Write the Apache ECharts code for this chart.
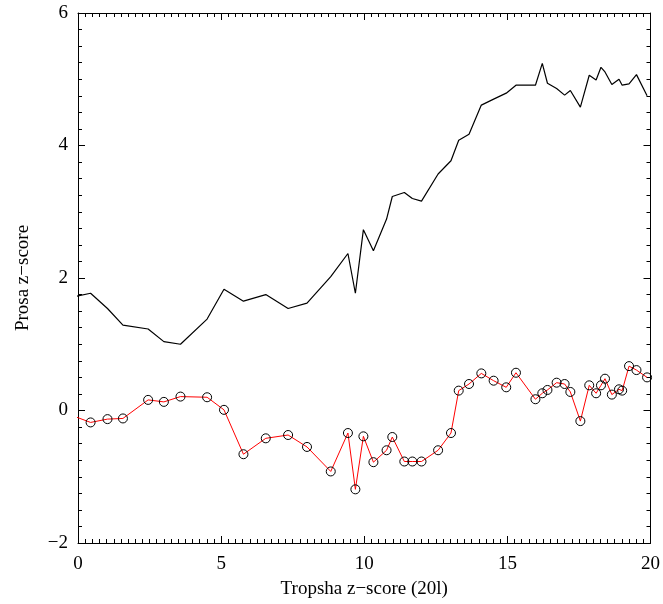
<!DOCTYPE html>
<html>
<head>
<meta charset="utf-8">
<style>
  html, body { margin: 0; padding: 0; background: #fff; }
  #main { width: 663px; height: 604px; }
</style>
<script src="https://cdn.jsdelivr.net/npm/echarts@6/dist/echarts.min.js"></script>
</head>
<body>
<div id="main"></div>
<script>
// x positions shared by both curves (Tropsha z-score)
const tropsha = [-0.3, 0.44, 1.03, 1.57, 2.45, 3.0, 3.58, 4.51, 5.10, 5.78, 6.56, 7.34, 8.0, 8.83, 9.43, 9.69, 9.97, 10.32, 10.78, 10.98, 11.40, 11.68, 12.0, 12.58, 13.03, 13.30, 13.66, 14.09, 14.52, 14.96, 15.30, 15.98, 16.22, 16.40, 16.72, 17.0, 17.20, 17.55, 17.86, 18.10, 18.27, 18.41, 18.65, 18.90, 19.01, 19.25, 19.51, 19.88]
// black line
const prosaUpper = [1.70, 1.77, 1.54, 1.29, 1.23, 1.04, 1.0, 1.38, 1.83, 1.65, 1.75, 1.54, 1.62, 2.02, 2.37, 1.77, 2.73, 2.41, 2.89, 3.23, 3.29, 3.20, 3.16, 3.57, 3.77, 4.08, 4.17, 4.61, 4.70, 4.79, 4.91, 4.91, 5.24, 4.94, 4.86, 4.76, 4.83, 4.58, 5.06, 4.99, 5.18, 5.11, 4.92, 5.00, 4.91, 4.93, 5.07, 4.75]
// red line with circles
const prosaLower = [-0.06, -0.18, -0.13, -0.12, 0.16, 0.13, 0.21, 0.20, 0.01, -0.66, -0.42, -0.37, -0.55, -0.92, -0.34, -1.19, -0.39, -0.78, -0.60, -0.40, -0.77, -0.77, -0.77, -0.60, -0.34, 0.30, 0.40, 0.56, 0.45, 0.35, 0.57, 0.17, 0.26, 0.31, 0.42, 0.40, 0.28, -0.16, 0.38, 0.26, 0.38, 0.48, 0.24, 0.32, 0.30, 0.67, 0.61, 0.50]

const xTicks = [0, 5, 10, 15, 20]
const yTicks = [-2, 0, 2, 4, 6]

const font = 'Liberation Serif'
const chart = echarts.init(document.getElementById('main'))

const upperData = tropsha.map((x, i) => [x, prosaUpper[i]])
const lowerData = tropsha.map((x, i) => [x, prosaLower[i]])

// shared axis look, ticks pointing in
const tickStyle = {
  axisLine: { show: true, onZero: false, lineStyle: { color: '#000', width: 1 } },
  axisTick: { show: true, inside: true, length: 7, lineStyle: { color: '#000' } },
  minorTick: { show: true, length: 4, lineStyle: { color: '#000' } },
  splitLine: { show: false }
}

const option = {
  animation: false,
  backgroundColor: '#fff',
  textStyle: { fontFamily: font },
  grid: { left: 78, right: 11, top: 13, bottom: 61 },
  xAxis: [
    {
      type: 'value',
      position: 'bottom',
      min: xTicks[0],
      max: xTicks[xTicks.length - 1],
      interval: 5,
      ...tickStyle,
      minorTick: { ...tickStyle.minorTick, splitNumber: 20 },
      axisLabel: { fontFamily: font, fontSize: 19, color: '#000', margin: 12 },
      name: 'Tropsha z\u2212score (20l)',
      nameLocation: 'middle',
      nameGap: 37,
      nameTextStyle: { fontFamily: font, fontSize: 19, color: '#000' }
    },
    {
      type: 'value',
      position: 'top',
      min: xTicks[0],
      max: xTicks[xTicks.length - 1],
      interval: 5,
      ...tickStyle,
      minorTick: { ...tickStyle.minorTick, splitNumber: 20 },
      axisLabel: { show: false }
    }
  ],
  yAxis: [
    {
      type: 'value',
      position: 'left',
      min: yTicks[0],
      max: yTicks[yTicks.length - 1],
      interval: 2,
      ...tickStyle,
      minorTick: { ...tickStyle.minorTick, splitNumber: 8 },
      axisLabel: {
        fontFamily: font,
        fontSize: 19,
        color: '#000',
        margin: 10,
        formatter: (v) => String(v).replace('-', '\u2212')
      },
      name: 'Prosa z\u2212score',
      nameLocation: 'middle',
      nameGap: 45,
      nameTextStyle: { fontFamily: font, fontSize: 19, color: '#000' }
    },
    {
      type: 'value',
      position: 'right',
      min: yTicks[0],
      max: yTicks[yTicks.length - 1],
      interval: 2,
      ...tickStyle,
      minorTick: { ...tickStyle.minorTick, splitNumber: 8 },
      axisLabel: { show: false }
    }
  ],
  series: [
    {
      name: 'upper',
      type: 'line',
      data: upperData,
      showSymbol: false,
      clip: true,
      lineStyle: { color: '#000', width: 1.2 },
      itemStyle: { color: '#000' }
    },
    {
      name: 'lower',
      type: 'line',
      data: lowerData,
      symbol: 'circle',
      symbolSize: 9,
      clip: true,
      lineStyle: { color: '#ff0000', width: 1 },
      itemStyle: { color: 'rgba(0,0,0,0)', borderColor: '#000', borderWidth: 1 }
    }
  ]
}

chart.setOption(option)
</script>
</body>
</html>
